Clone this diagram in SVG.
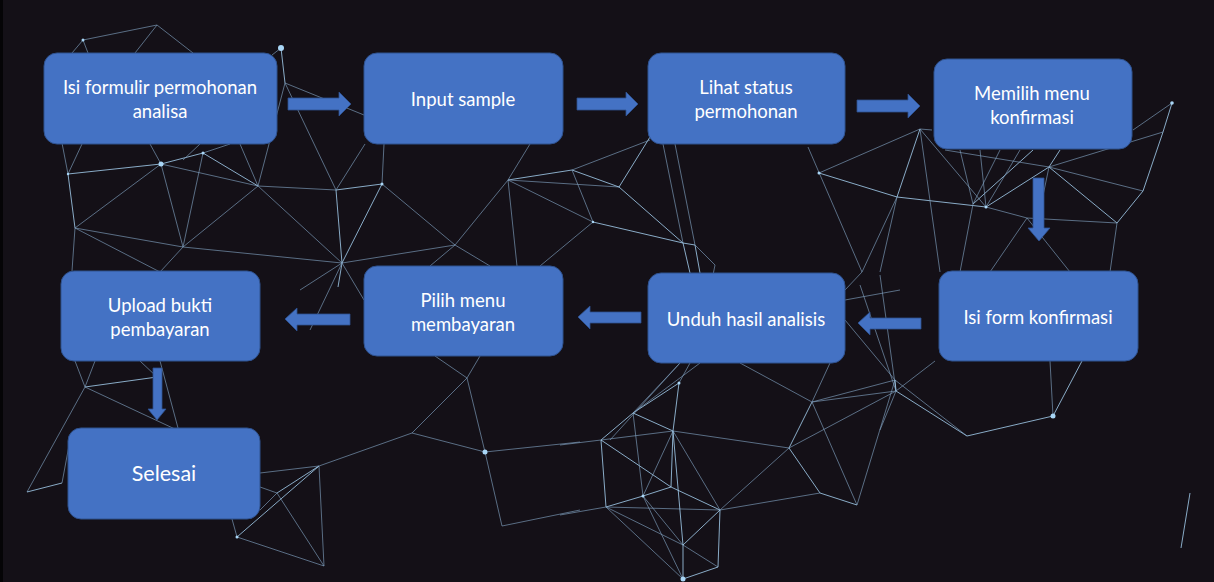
<svg xmlns="http://www.w3.org/2000/svg" width="1214" height="582" viewBox="0 0 1214 582">
<style>
.bg{fill:#141017}
.n line,.n polyline{stroke:#7f9fbf;stroke-width:1;fill:none;opacity:.65}
.n .b{stroke:#a6d2f2;opacity:.8}
.n circle{fill:#a9d6f6}
.box{fill:#4472C4;stroke:#2F528F;stroke-width:1}
.arr{fill:#4472C4;stroke:#2F528F;stroke-width:.8}
.t{font-family:Lato,"Liberation Sans",sans-serif;font-size:18.5px;fill:#ffffff;text-anchor:middle;dominant-baseline:central}
.big{font-size:21.5px}
</style>
<rect class="bg" x="0" y="0" width="1214" height="582"/>
<rect x="0" y="0" width="3" height="582" fill="#050406"/>
<g class="n" id="network">
<line x1="83" y1="40" x2="157" y2="25"/><line x1="157" y1="25" x2="193" y2="53"/><line x1="157" y1="25" x2="135" y2="53"/>
<line x1="83" y1="40" x2="72" y2="53"/><line x1="83" y1="40" x2="88" y2="53"/>
<line class="b" x1="281" y1="48" x2="285" y2="83"/><line x1="281" y1="48" x2="272" y2="55"/><line x1="285" y1="83" x2="364" y2="115"/>
<line x1="285" y1="83" x2="336" y2="190"/><line x1="285" y1="83" x2="258" y2="186"/>
<line x1="62" y1="143" x2="68" y2="174"/><line x1="82" y1="144" x2="68" y2="174"/>
<line class="b" x1="68" y1="174" x2="161" y2="164"/><line class="b" x1="161" y1="164" x2="203" y2="153"/>
<line x1="161" y1="164" x2="258" y2="186"/><line class="b" x1="203" y1="153" x2="258" y2="186"/>
<line x1="258" y1="186" x2="336" y2="190"/><line class="b" x1="336" y1="190" x2="382" y2="184"/>
<line class="b" x1="68" y1="174" x2="75" y2="228"/><line x1="75" y1="228" x2="161" y2="164"/>
<line x1="161" y1="164" x2="183" y2="247"/><line x1="203" y1="153" x2="183" y2="247"/>
<line x1="258" y1="186" x2="183" y2="247"/><line x1="75" y1="228" x2="183" y2="247"/>
<line x1="75" y1="228" x2="160" y2="272"/><line x1="75" y1="228" x2="72" y2="271"/><line x1="183" y1="247" x2="160" y2="272"/>
<line x1="258" y1="186" x2="342" y2="263"/><line class="b" x1="336" y1="190" x2="342" y2="263"/><line class="b" x1="382" y1="184" x2="342" y2="263"/>
<line class="b" x1="342" y1="263" x2="338" y2="287"/><line x1="183" y1="247" x2="342" y2="263"/>
<line x1="150" y1="144" x2="161" y2="164"/><line x1="240" y1="144" x2="258" y2="186"/><line x1="200" y1="144" x2="183" y2="160"/>
<line x1="336" y1="190" x2="365" y2="144"/><line x1="382" y1="184" x2="384" y2="144"/><line x1="230" y1="144" x2="203" y2="153"/>
<line x1="342" y1="263" x2="300" y2="290"/><line x1="342" y1="263" x2="364" y2="300"/><line x1="342" y1="263" x2="310" y2="330"/>
<line x1="382" y1="184" x2="455" y2="245"/><line x1="342" y1="263" x2="455" y2="245"/>
<line x1="455" y1="245" x2="508" y2="180"/><line x1="455" y1="245" x2="490" y2="266"/><line x1="455" y1="245" x2="430" y2="266"/>
<line class="b" x1="508" y1="180" x2="572" y2="170"/><line x1="508" y1="180" x2="619" y2="187"/><line class="b" x1="572" y1="170" x2="619" y2="187"/>
<line x1="572" y1="170" x2="593" y2="222"/><line x1="508" y1="180" x2="593" y2="222"/><line class="b" x1="593" y1="222" x2="683" y2="243"/>
<line class="b" x1="619" y1="187" x2="683" y2="243"/><line class="b" x1="619" y1="187" x2="650" y2="137"/><line x1="572" y1="170" x2="650" y2="140"/>
<line x1="508" y1="180" x2="517" y2="266"/><line x1="593" y1="222" x2="540" y2="266"/><line x1="508" y1="180" x2="530" y2="144"/>
<line x1="663" y1="144" x2="683" y2="243"/><line x1="675" y1="144" x2="695" y2="245"/>
<line class="b" x1="683" y1="243" x2="695" y2="245"/><line class="b" x1="683" y1="243" x2="690" y2="273"/><line class="b" x1="695" y1="245" x2="700" y2="273"/>
<line x1="695" y1="245" x2="715" y2="265"/><line x1="715" y1="265" x2="713" y2="275"/>
<line x1="808" y1="147" x2="862" y2="272"/><line class="b" x1="819" y1="173" x2="897" y2="197"/><line x1="819" y1="173" x2="920" y2="129"/>
<line class="b" x1="920" y1="129" x2="897" y2="197"/><line class="b" x1="897" y1="197" x2="986" y2="207"/><line class="b" x1="986" y1="207" x2="1049" y2="167"/>
<line class="b" x1="973" y1="204" x2="1033" y2="150"/><line x1="897" y1="197" x2="862" y2="272"/><line x1="862" y1="272" x2="845" y2="290"/>
<line x1="1049" y1="167" x2="1143" y2="191"/><line class="b" x1="1143" y1="191" x2="1163" y2="132"/><line class="b" x1="1163" y1="132" x2="1172" y2="103"/>
<line class="b" x1="1143" y1="191" x2="1117" y2="223"/><line class="b" x1="1049" y1="167" x2="1117" y2="223"/><line x1="1027" y1="218" x2="1117" y2="223"/>
<line x1="986" y1="207" x2="1027" y2="218"/><line x1="920" y1="129" x2="986" y2="207"/><line x1="920" y1="129" x2="932" y2="130"/>
<line x1="960" y1="150" x2="973" y2="204"/><line x1="980" y1="150" x2="986" y2="207"/><line x1="945" y1="150" x2="1049" y2="167"/>
<line x1="1000" y1="150" x2="973" y2="204"/><line x1="1020" y1="150" x2="986" y2="207"/><line class="b" x1="1060" y1="150" x2="1049" y2="167"/>
<line x1="1049" y1="167" x2="1040" y2="210"/><line x1="1117" y1="223" x2="1110" y2="272"/><line x1="1163" y1="132" x2="1049" y2="167"/>
<line x1="1172" y1="103" x2="1133" y2="130"/><line x1="897" y1="197" x2="880" y2="272"/><line x1="973" y1="204" x2="960" y2="272"/>
<line x1="1027" y1="218" x2="990" y2="272"/><line x1="1027" y1="218" x2="1070" y2="272"/><line x1="920" y1="129" x2="940" y2="272"/>
<line x1="845" y1="300" x2="900" y2="290"/><line x1="845" y1="320" x2="895" y2="380"/><line x1="860" y1="285" x2="896" y2="391"/>
<line x1="880" y1="275" x2="896" y2="391"/>
<line class="b" x1="679" y1="383" x2="633" y2="413"/><line class="b" x1="679" y1="383" x2="673" y2="431"/><line x1="679" y1="383" x2="690" y2="363"/>
<line x1="633" y1="413" x2="680" y2="363"/><line x1="633" y1="413" x2="700" y2="363"/><line x1="610" y1="440" x2="680" y2="363"/>
<line class="b" x1="633" y1="413" x2="601" y2="440"/><line class="b" x1="633" y1="413" x2="673" y2="431"/><line x1="601" y1="440" x2="673" y2="431"/>
<line class="b" x1="601" y1="440" x2="606" y2="507"/><line class="b" x1="601" y1="440" x2="671" y2="487"/><line x1="633" y1="413" x2="643" y2="496"/>
<line x1="673" y1="431" x2="643" y2="496"/><line class="b" x1="673" y1="431" x2="671" y2="487"/><line class="b" x1="643" y1="496" x2="671" y2="487"/>
<line class="b" x1="606" y1="507" x2="643" y2="496"/><line x1="606" y1="507" x2="720" y2="510"/><line class="b" x1="671" y1="487" x2="720" y2="510"/>
<line x1="643" y1="496" x2="683" y2="545"/><line x1="606" y1="507" x2="683" y2="545"/><line class="b" x1="683" y1="545" x2="720" y2="510"/>
<line class="b" x1="720" y1="510" x2="718" y2="567"/><line x1="683" y1="545" x2="718" y2="567"/><line class="b" x1="683" y1="545" x2="683" y2="579"/>
<line class="b" x1="683" y1="579" x2="718" y2="567"/><line x1="673" y1="431" x2="720" y2="510"/><line class="b" x1="673" y1="431" x2="683" y2="545"/>
<line x1="673" y1="431" x2="789" y2="448"/><line x1="720" y1="510" x2="789" y2="448"/><line class="b" x1="789" y1="448" x2="812" y2="402"/>
<line x1="812" y1="402" x2="895" y2="380"/><line x1="812" y1="402" x2="896" y2="391"/><line class="b" x1="789" y1="448" x2="820" y2="493"/>
<line x1="812" y1="402" x2="857" y2="505"/><line x1="789" y1="448" x2="896" y2="391"/><line x1="720" y1="510" x2="820" y2="493"/>
<line class="b" x1="820" y1="493" x2="857" y2="505"/><line x1="895" y1="380" x2="857" y2="505"/><line x1="740" y1="363" x2="812" y2="402"/>
<line x1="812" y1="402" x2="830" y2="363"/><line x1="601" y1="440" x2="560" y2="445"/><line x1="606" y1="507" x2="560" y2="515"/>
<line x1="643" y1="496" x2="683" y2="579"/><line x1="606" y1="507" x2="683" y2="579"/>
<line class="b" x1="896" y1="391" x2="967" y2="436"/><line x1="895" y1="380" x2="967" y2="436"/><line class="b" x1="967" y1="436" x2="1053" y2="416"/>
<line x1="1053" y1="416" x2="1050" y2="361"/><line class="b" x1="1053" y1="416" x2="1082" y2="361"/><line class="b" x1="1190" y1="493" x2="1181" y2="548"/>
<line class="b" x1="895" y1="380" x2="896" y2="391"/><line x1="896" y1="391" x2="880" y2="430"/><line x1="896" y1="391" x2="935" y2="361"/>
<line x1="467" y1="378" x2="412" y2="433"/><line x1="467" y1="378" x2="485" y2="452"/><line x1="467" y1="378" x2="480" y2="356"/>
<line x1="467" y1="378" x2="435" y2="356"/><line x1="412" y1="433" x2="485" y2="452"/><line x1="412" y1="433" x2="319" y2="466"/>
<line x1="485" y1="452" x2="502" y2="526"/><line x1="485" y1="452" x2="580" y2="442"/><line x1="502" y1="526" x2="580" y2="510"/>
<line class="b" x1="319" y1="466" x2="277" y2="493"/><line class="b" x1="319" y1="466" x2="237" y2="537"/><line x1="319" y1="466" x2="324" y2="566"/>
<line x1="277" y1="493" x2="324" y2="566"/><line x1="237" y1="537" x2="324" y2="566"/><line x1="260" y1="473" x2="319" y2="466"/>
<line x1="260" y1="487" x2="277" y2="493"/><line x1="260" y1="510" x2="277" y2="493"/><line x1="237" y1="537" x2="232" y2="519"/>
<line class="b" x1="85" y1="387" x2="157" y2="377"/><line x1="85" y1="387" x2="177" y2="430"/><line x1="85" y1="387" x2="27" y2="492"/>
<line class="b" x1="27" y1="492" x2="62" y2="483"/><line x1="62" y1="483" x2="70" y2="440"/><line x1="85" y1="387" x2="75" y2="361"/>
<line x1="85" y1="387" x2="95" y2="361"/><line x1="140" y1="361" x2="157" y2="377"/><line x1="160" y1="361" x2="178" y2="428"/>
</g>
<g class="n" id="dots">
<circle cx="281" cy="48" r="3"/><circle cx="161" cy="164" r="2.5"/><circle cx="83" cy="40" r="1.5"/><circle cx="203" cy="153" r="1.5"/>
<circle cx="382" cy="184" r="1.5"/><circle cx="68" cy="174" r="1.2"/><circle cx="1172" cy="103" r="1.8"/><circle cx="819" cy="173" r="1.5"/>
<circle cx="593" cy="222" r="1.2"/><circle cx="1053" cy="416" r="2.5"/><circle cx="485" cy="452" r="2.5"/><circle cx="237" cy="537" r="1.5"/>
<circle cx="683" cy="579" r="2.5"/><circle cx="643" cy="496" r="1.5"/><circle cx="679" cy="383" r="1.5"/><circle cx="986" cy="207" r="1.5"/>
</g>
<g id="connectors">
<polygon class="arr" points="288,98 339,98 339,92 351,104 339,116 339,110 288,110"/>
<polygon class="arr" points="577,98 626,98 626,92 638,104 626,116 626,110 577,110"/>
<polygon class="arr" points="857,100 908,100 908,94 920,106 908,118 908,112 857,112"/>
<polygon class="arr" points="1033,178 1044,178 1044,228 1050,228 1039,241 1028,228 1033,228"/>
<polygon class="arr" points="921,318 870,318 870,312 858,323 870,335 870,329 921,329"/>
<polygon class="arr" points="641,312 590,312 590,306 578,317 590,329 590,323 641,323"/>
<polygon class="arr" points="350,314 297,314 297,308 285,319 297,331 297,325 350,325"/>
<polygon class="arr" points="153,368 162,368 162,409 166,409 157,420 148,409 153,409"/>
</g>
<g id="n1"><rect class="box" x="44" y="53" width="233" height="91" rx="13"/><text class="t" x="160" y="87">Isi formulir permohonan</text><text class="t" x="160" y="111">analisa</text></g>
<g id="n2"><rect class="box" x="364" y="53" width="199" height="91" rx="13"/><text class="t" x="463" y="99">Input sample</text></g>
<g id="n3"><rect class="box" x="648" y="53" width="197" height="91" rx="13"/><text class="t" x="746" y="87">Lihat status</text><text class="t" x="746" y="111">permohonan</text></g>
<g id="n4"><rect class="box" x="934" y="59" width="198" height="90" rx="13"/><text class="t" x="1032" y="93">Memilih menu</text><text class="t" x="1032" y="117">konfirmasi</text></g>
<g id="n5"><rect class="box" x="939" y="271" width="199" height="90" rx="13"/><text class="t" x="1038" y="317">Isi form konfirmasi</text></g>
<g id="n6"><rect class="box" x="648" y="273" width="197" height="90" rx="13"/><text class="t" x="746" y="319">Unduh hasil analisis</text></g>
<g id="n7"><rect class="box" x="364" y="266" width="199" height="90" rx="13"/><text class="t" x="463" y="300">Pilih menu</text><text class="t" x="463" y="324">membayaran</text></g>
<g id="n8"><rect class="box" x="61" y="271" width="199" height="90" rx="13"/><text class="t" x="160" y="305">Upload bukti</text><text class="t" x="160" y="329">pembayaran</text></g>
<g id="n9"><rect class="box" x="68" y="428" width="192" height="91" rx="13"/><text class="t big" x="164" y="473">Selesai</text></g>
</svg>
